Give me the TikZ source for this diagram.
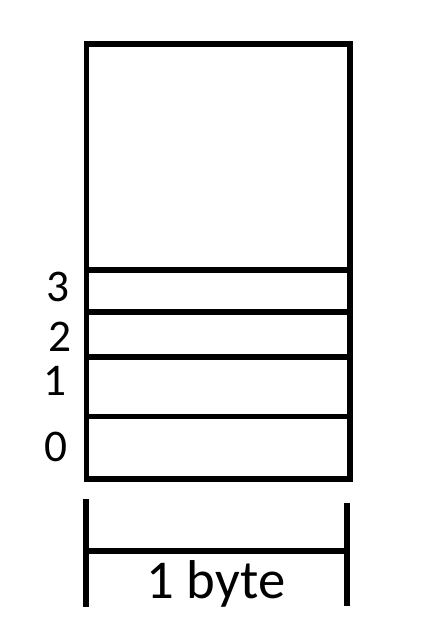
\documentclass[tikz,border=0pt]{standalone}
\usepackage{fontspec}
\setmainfont{Carlito}
\usetikzlibrary{positioning,calc}
\tikzset{
 thickline/.style={line width=4.1pt,line cap=rect},
 bitlabel/.style={font=\fontsize{34}{34}\selectfont,inner sep=0pt},
 sizelabel/.style={font=\fontsize{41}{41}\selectfont,inner sep=0pt}
}
\begin{document}
\begin{tikzpicture}[x=0.75pt,y=-0.75pt]
\useasboundingbox (0,0) rectangle (425,639);
% memory column
\coordinate (tl) at (86.5,44);
\coordinate (br) at (350,479);
\draw[thickline] (tl) rectangle (br);
\foreach \y in {270,312,357,416.5}
  \draw[thickline] (86.5,\y) -- (350,\y);
% bit numbers
\node[bitlabel] (bit3) at (58,287) {3};
\node[bitlabel] (bit2) at (60,337) {2};
\node[bitlabel] (bit1) at (55,381) {1};
\node[bitlabel] (bit0) at (56,447) {0};
% width marker
\coordinate (la) at (86,499);
\coordinate (lb) at (86,607);
\coordinate (ra) at (347,503);
\coordinate (rb) at (347,606);
\draw[line width=4.1pt] (la) -- (lb);
\draw[line width=4.1pt] (ra) -- (rb);
\draw[line width=4.1pt] (86,551) -- (347,551);
\node[sizelabel] (size) at (216,584) {1 byte};
\end{tikzpicture}
\end{document}
